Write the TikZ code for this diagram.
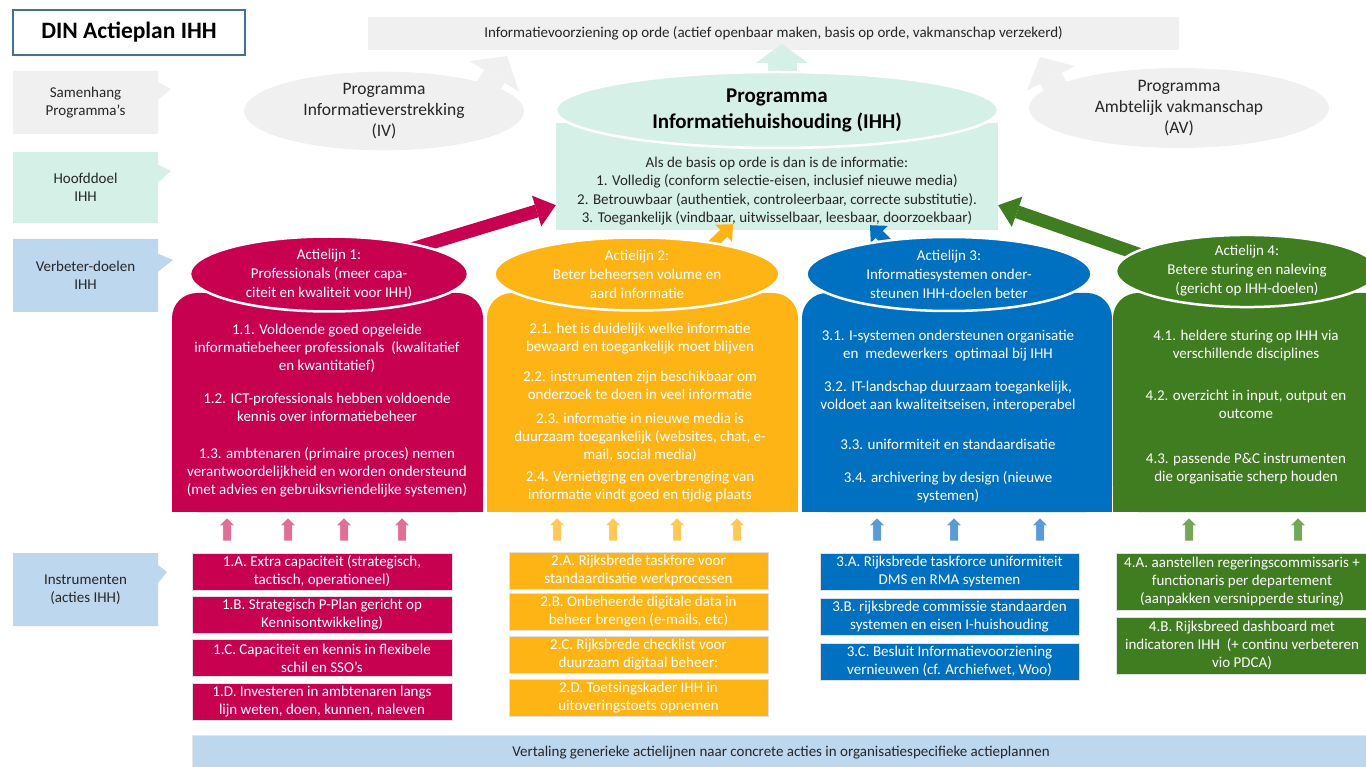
\documentclass[tikz,border=0pt]{standalone}
\usepackage{fontspec}
\setmainfont{Carlito}
\usetikzlibrary{shapes.geometric,shapes.callouts,shapes.arrows,arrows.meta,backgrounds}
\definecolor{lijnrood}{HTML}{C80050}
\definecolor{lijngeel}{HTML}{FFB416}
\definecolor{lijnblauw}{HTML}{0070C0}
\definecolor{lijngroen}{HTML}{3F7D20}
\definecolor{pijlrood}{HTML}{E06E96}
\definecolor{pijlgeel}{HTML}{FFC857}
\definecolor{pijlblauw}{HTML}{5B9BD5}
\definecolor{pijlgroen}{HTML}{74A65A}
\definecolor{grijs}{HTML}{F0F0F0}
\definecolor{mint}{HTML}{D5F0E6}
\definecolor{lichtblauw}{HTML}{BDD7EE}
\definecolor{titelrand}{HTML}{41719C}

\begin{document}
\begin{tikzpicture}[x=1pt, y=-1pt,
	kader/.style = {rectangle callout, fill=#1, minimum width=145pt, callout pointer width=18pt, align=center, text=black!85, font=\fontsize{15}{18}\selectfont},
	ovaal/.style = {ellipse, fill=#1, inner sep=0pt, align=center},
	lijn/.style = {ovaal=#1, draw=white, line width=2.5pt, text=white, font=\fontsize{15}{19}\selectfont},
	doel/.style = {text=white, align=center, font=\fontsize{15}{18}\selectfont},
	actie/.style = {fill=#1, draw=black!12, text=white, align=center, inner sep=0pt, font=\fontsize{15}{18}\selectfont},
	pijl/.style = {single arrow, shape border rotate=90, fill=#1, draw=white, inner sep=4pt, minimum height=23pt, single arrow head extend=3.5pt},
	blok/.style n args = {4}{draw=#1, line width=#2, -{Triangle[width=#3, length=#4, line width=0pt]}}]
	\useasboundingbox (0,0) rectangle (1366,767);
	\clip (0,0) rectangle (1366,767);

	\node[draw=titelrand, line width=1.2pt, minimum width=232pt, minimum height=45pt, font=\bfseries\fontsize{23.5}{27}\selectfont] (titel) at (129,32.5) {DIN Actieplan IHH};

	\node[kader=grijs, minimum height=63pt, callout absolute pointer={(171,89)}] (samenhang) at (85.5,102.5) {Samenhang\\Programma’s};
	\node[kader=mint, minimum height=71pt, callout absolute pointer={(171,171)}] (hoofddoel) at (85.5,187.5) {Hoofddoel\\IHH};
	\node[kader=lichtblauw, minimum height=73pt, callout absolute pointer={(173,260)}] (verbeter) at (85.5,275.5) {Verbeter-doelen\\IHH};
	\node[kader=lichtblauw, minimum height=73pt, callout absolute pointer={(167,572)}] (instrumenten) at (85.5,589.5) {Instrumenten\\(acties IHH)};

	\node[ovaal=grijs, minimum width=280pt, minimum height=78pt, text=black!85, font=\fontsize{17.5}{21}\selectfont] (iv) at (384,111) {Programma\\Informatieverstrekking\\(IV)};
	\node[ovaal=grijs, minimum width=300pt, minimum height=80pt, text=black!85, font=\fontsize{17.5}{21}\selectfont] (av) at (1179,108) {Programma\\Ambtelijk vakmanschap\\(AV)};
	\coordinate (ivpunt) at (507,56);
	\coordinate (avpunt) at (1040,57);
	\coordinate (ihhpunt) at (782,44);

	\begin{scope}[on background layer]
		\node[fill=grijs, minimum width=811pt, minimum height=33pt, text=black!85, font=\fontsize{15}{18}\selectfont] (balk) at (773.5,33.5) {Informatievoorziening op orde (actief openbaar maken, basis op orde, vakmanschap verzekerd)};
		\node[fill=mint, minimum width=442pt, minimum height=107pt] (ihhbody) at (777,176.5) {};
	\end{scope}
	\node[ovaal=mint, draw=white, line width=2.5pt, minimum width=442pt, minimum height=76pt, font=\bfseries\fontsize{21}{26}\selectfont] (ihh) at (777,110) {Programma\\Informatiehuishouding (IHH)};
	\node[align=center, text=black!85, font=\fontsize{15}{18.5}\selectfont] (ihhdoel) at (777,191) {Als de basis op orde is dan is de informatie:\\1. Volledig (conform selectie-eisen, inclusief nieuwe media)\\2. Betrouwbaar (authentiek, controleerbaar, correcte substitutie).\\3. Toegankelijk (vindbaar, uitwisselbaar, leesbaar, doorzoekbaar)};

	\foreach \a/\b/\k in {172/483/lijnrood, 487/798/lijngeel, 802/1112/lijnblauw, 1113/1390/lijngroen}{
		\fill[\k, rounded corners=25pt] (\a,293) rectangle (\b,512);
		\fill[\k] (\a,400) rectangle (\b,512);
	}

	\node[lijn=lijnrood, minimum width=278pt, minimum height=75pt] (al1) at (329,274) {Actielijn 1:\\Professionals (meer capa-\\citeit en kwaliteit voor IHH)};
	\node[lijn=lijngeel, minimum width=285pt, minimum height=73pt] (al2) at (637,274) {Actielijn 2:\\Beter beheersen volume en\\aard informatie};
	\node[lijn=lijnblauw, minimum width=285pt, minimum height=74pt] (al3) at (949,274) {Actielijn 3:\\Informatiesystemen onder-\\steunen IHH-doelen beter};
	\node[lijn=lijngroen, minimum width=262pt, minimum height=70pt] (al4) at (1247,271) {Actielijn 4:\\Betere sturing en naleving\\(gericht op IHH-doelen)};

	\node[doel] (d11) at (327,348) {1.1. Voldoende goed opgeleide\\informatiebeheer professionals \ (kwalitatief\\en kwantitatief)};
	\node[doel] (d12) at (327,407) {1.2. ICT-professionals hebben voldoende\\kennis over informatiebeheer};
	\node[doel] (d13) at (327,472) {1.3. ambtenaren (primaire proces) nemen\\verantwoordelijkheid en worden ondersteund\\(met advies en gebruiksvriendelijke systemen)};
	\node[doel] (d21) at (640,339) {2.1. het is duidelijk welke informatie\\bewaard en toegankelijk moet blijven};
	\node[doel] (d22) at (640,385) {2.2. instrumenten zijn beschikbaar om\\onderzoek te doen in veel informatie};
	\node[doel] (d23) at (640,437) {2.3. informatie in nieuwe media is\\duurzaam toegankelijk (websites, chat, e-\\mail, social media)};
	\node[doel] (d24) at (640,487) {2.4. Vernietiging en overbrenging van\\informatie vindt goed en tijdig plaats};
	\node[doel] (d31) at (948,346) {3.1. I-systemen ondersteunen organisatie\\en \ medewerkers \ optimaal bij IHH};
	\node[doel] (d32) at (948,397) {3.2. IT-landschap duurzaam toegankelijk,\\voldoet aan kwaliteitseisen, interoperabel};
	\node[doel] (d33) at (948,444) {3.3. uniformiteit en standaardisatie};
	\node[doel] (d34) at (948,487) {3.4. archivering by design (nieuwe\\systemen)};
	\node[doel] (d41) at (1246,346) {4.1. heldere sturing op IHH via\\verschillende disciplines};
	\node[doel] (d42) at (1246,404) {4.2. overzicht in input, output en\\outcome};
	\node[doel] (d43) at (1246,469) {4.3. passende P\&C instrumenten\\die organisatie scherp houden};

	\foreach \x [count=\i] in {227,288,344,402}
		\node[pijl=pijlrood] (p1\i) at (\x,531.5) {};
	\foreach \x [count=\i] in {557,613,677,737}
		\node[pijl=pijlgeel] (p2\i) at (\x,531.5) {};
	\foreach \x [count=\i] in {877,954,1040}
		\node[pijl=pijlblauw] (p3\i) at (\x,531.5) {};
	\foreach \x [count=\i] in {1189,1298}
		\node[pijl=pijlgroen] (p4\i) at (\x,531.5) {};

	\node[actie=lijnrood, minimum width=260pt, minimum height=37pt] (i1a) at (322,571.5) {1.A. Extra capaciteit (strategisch,\\tactisch, operationeel)};
	\node[actie=lijnrood, minimum width=260pt, minimum height=37pt] (i1b) at (322,614.5) {1.B. Strategisch P-Plan gericht op\\Kennisontwikkeling)};
	\node[actie=lijnrood, minimum width=260pt, minimum height=37pt] (i1c) at (322,658) {1.C. Capaciteit en kennis in flexibele\\schil en SSO’s};
	\node[actie=lijnrood, minimum width=260pt, minimum height=37pt] (i1d) at (322,702) {1.D. Investeren in ambtenaren langs\\lijn weten, doen, kunnen, naleven};
	\node[actie=lijngeel, minimum width=259pt, minimum height=37pt] (i2a) at (638.5,570.5) {2.A. Rijksbrede taskfore voor\\standaardisatie werkprocessen};
	\node[actie=lijngeel, minimum width=259pt, minimum height=37pt] (i2b) at (638.5,611.5) {2.B. Onbeheerde digitale data in\\beheer brengen (e-mails, etc)};
	\node[actie=lijngeel, minimum width=259pt, minimum height=37pt] (i2c) at (638.5,655) {2.C. Rijksbrede checklist voor\\duurzaam digitaal beheer:};
	\node[actie=lijngeel, minimum width=259pt, minimum height=37pt] (i2d) at (638.5,698) {2.D. Toetsingskader IHH in\\uitoveringstoets opnemen};
	\node[actie=lijnblauw, minimum width=259pt, minimum height=37pt] (i3a) at (949.5,571.5) {3.A. Rijksbrede taskforce uniformiteit\\DMS en RMA systemen};
	\node[actie=lijnblauw, minimum width=259pt, minimum height=37pt] (i3b) at (949.5,616.5) {3.B. rijksbrede commissie standaarden\\systemen en eisen I-huishouding};
	\node[actie=lijnblauw, minimum width=259pt, minimum height=37pt] (i3c) at (949.5,661.5) {3.C. Besluit Informatievoorziening\\vernieuwen (cf. Archiefwet, Woo)};
	\node[actie=lijngroen, minimum width=252pt, minimum height=57pt] (i4a) at (1242,581.5) {4.A. aanstellen regeringscommissaris +\\functionaris per departement\\(aanpakken versnipperde sturing)};
	\node[actie=lijngroen, minimum width=252pt, minimum height=57pt] (i4b) at (1242,645.5) {4.B. Rijksbreed dashboard met\\indicatoren IHH \ (+ continu verbeteren\\vio PDCA)};

	\node[fill=lichtblauw, draw=black!10, minimum width=1178pt, minimum height=36pt, text=black!85, font=\fontsize{15}{18}\selectfont] (vertaling) at (781,753) {Vertaling generieke actielijnen naar concrete acties in organisatiespecifieke actieplannen};

	\begin{scope}[on background layer]
		\draw[blok={grijs}{24pt}{58pt}{24pt}] ([xshift=89pt]iv.center) -- (ivpunt);
		\draw[blok={grijs}{24pt}{54pt}{24pt}] ([xshift=-113pt]av.center) -- (avpunt);
		\draw[blok={mint}{29pt}{52pt}{19pt}] ([xshift=5pt]ihh.center) -- (ihhpunt);
		\draw[blok={lijnrood}{13pt}{32pt}{20pt}] (al1.center) -- ([yshift=25pt]ihhbody.south west);
		\draw[blok={lijngeel}{10pt}{24pt}{13pt}] ([xshift=45pt]al2.center) -- ([xshift=-44pt, yshift=6pt]ihhbody.south);
		\draw[blok={lijnblauw}{10pt}{24pt}{13pt}] ([xshift=-30pt]al3.center) -- ([xshift=93pt, yshift=5pt]ihhbody.south);
		\draw[blok={lijngroen}{13pt}{32pt}{20pt}] ([xshift=-60pt]al4.center) -- ([yshift=25pt]ihhbody.south east);
	\end{scope}
\end{tikzpicture}
\end{document}
